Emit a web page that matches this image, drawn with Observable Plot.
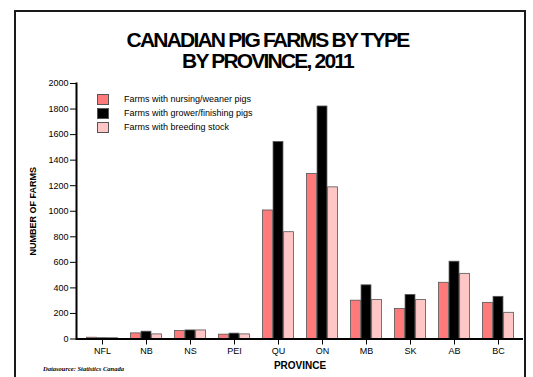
<!DOCTYPE html>
<html><head><meta charset="utf-8">
<script src="https://cdn.jsdelivr.net/npm/d3@7"></script>
<script src="https://cdn.jsdelivr.net/npm/@observablehq/plot@0.6"></script>
<style>
body{margin:0;background:#fff;font-family:"Liberation Sans",Arial,sans-serif;}
#wrap{position:relative;width:533px;height:377px;overflow:hidden;background:#fff;}
#chart{position:absolute;left:0;top:0;}
#border{position:absolute;left:14px;top:10px;width:508px;height:400px;border:2px solid #1a1a1a;pointer-events:none;}
#title{position:absolute;left:0;width:535px;top:29px;text-align:center;font-weight:bold;font-size:21px;letter-spacing:-1.8px;line-height:21px;color:#000;}
#legend{position:absolute;left:97px;top:92px;font-size:9px;color:#000;}
.row{display:flex;align-items:center;height:14px;}
.sw{width:12px;height:11px;box-sizing:border-box;border:1px solid #555;margin-right:15px;}
#source{position:absolute;left:43px;top:365px;font-family:"Liberation Serif","Times New Roman",serif;font-style:italic;font-weight:bold;font-size:6.5px;color:#000;}
</style></head>
<body>
<div id="wrap">
<div id="chart"></div>
<div id="border"></div>
<div id="title">CANADIAN PIG FARMS BY TYPE<br>BY PROVINCE, 2011</div>
<div id="legend"></div>
<div id="source">Datasource: Statistics Canada</div>
</div>
<script>
const provinces = ["NFL","NB","NS","PEI","QU","ON","MB","SK","AB","BC"];
const seriesNames = ["Farms with nursing/weaner pigs","Farms with grower/finishing pigs","Farms with breeding stock"];
const nursing  = [10, 44, 62, 34, 1006, 1291, 300, 235, 440, 283];
const grower   = [6, 57, 67, 42, 1542, 1820, 420, 345, 605, 330];
const breeding = [6, 36, 67, 36, 836, 1187, 305, 305, 510, 205];
const yTicks = [0,200,400,600,800,1000,1200,1400,1600,1800,2000];
const colors = ["#FF7B7B","#000000","#FFC6C6"];

const series = [nursing, grower, breeding];
const barW = 10.6;
const bandW = 44.7;
const inset = (bandW - barW) / 2;

const marks = series.map((vals, i) => Plot.barY(
  provinces.map((p, j) => ({province: p, value: vals[j]})),
  {x: "province", y: "value", fill: colors[i], stroke: "#555", strokeWidth: 0.8,
   insetLeft: inset, insetRight: inset, dx: (i - 1) * barW}
));

const chart = Plot.plot({
  width: 533, height: 377,
  marginLeft: 76, marginRight: 10, marginTop: 83, marginBottom: 38.5,
  style: {fontFamily: "Liberation Sans, Arial, sans-serif", fontSize: "9px", color: "#000", background: "transparent"},
  x: {domain: provinces, padding: 0, label: null},
  y: {domain: [0, 2000], label: null},
  marks: [
    ...marks,
    Plot.axisY({ticks: yTicks, tickFormat: d => String(d), tickSize: 6, tickPadding: 2, label: null, fontSize: 9}),
    Plot.axisX({tickSize: 6, tickPadding: 3, label: null, fontSize: 9, style: {letterSpacing: "-0.5px"}}),
    Plot.ruleY([0], {stroke: "#000", strokeWidth: 2}),
    Plot.frame({anchor: "left", stroke: "#000", strokeWidth: 2}),
    Plot.text(["NUMBER OF FARMS"], {frameAnchor: "left", dx: -43, rotate: -90, fontWeight: "bold", fontSize: 9, letterSpacing: "-0.3px", lineAnchor: "middle", textAnchor: "middle"}),
    Plot.text(["PROVINCE"], {frameAnchor: "bottom", dy: 27, fontWeight: "bold", fontSize: 10, lineAnchor: "middle"})
  ]
});
document.getElementById("chart").appendChild(chart);

const legend = document.getElementById("legend");
seriesNames.forEach((name, i) => {
  const row = document.createElement("div");
  row.className = "row";
  const sw = document.createElement("div");
  sw.className = "sw";
  sw.style.background = colors[i];
  const t = document.createElement("span");
  t.textContent = name;
  row.appendChild(sw); row.appendChild(t);
  legend.appendChild(row);
});
</script>
</body></html>
